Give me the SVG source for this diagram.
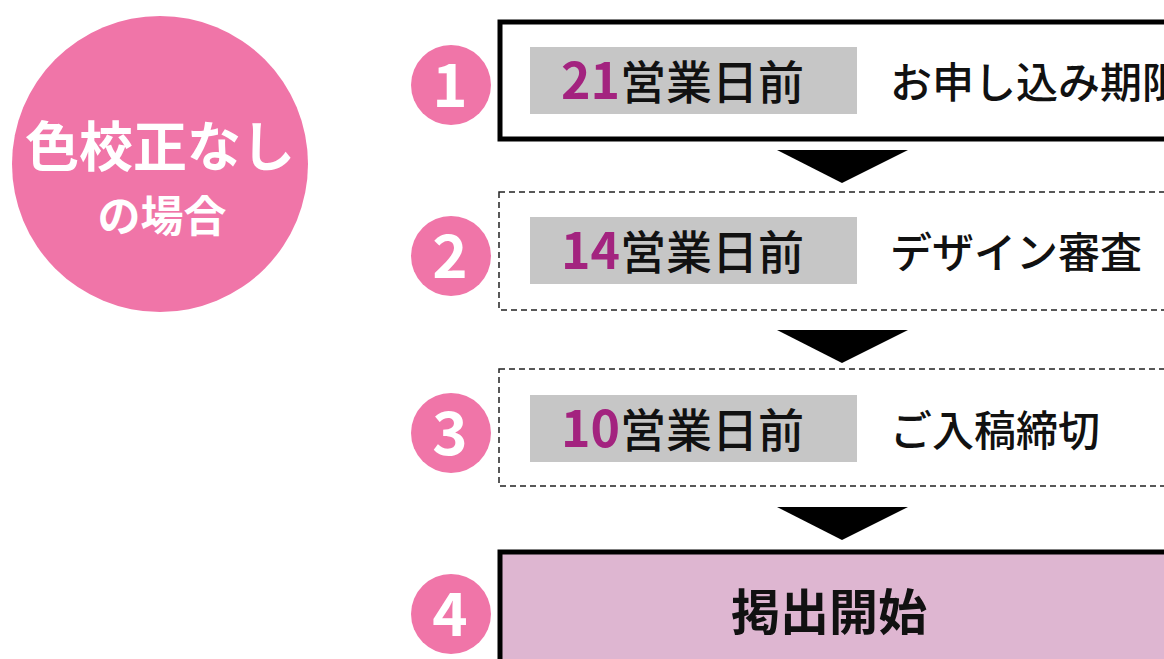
<svg xmlns="http://www.w3.org/2000/svg" width="1164" height="659" viewBox="0 0 1164 659">
<style>
.jp{font-family:"Noto Sans CJK JP","Noto Sans",sans-serif}
.num{font-family:"Noto Sans CJK JP","Noto Sans",sans-serif;font-weight:700;font-size:60px;fill:#fff;text-anchor:middle}
.badge{fill:#F075A8}
.gray{fill:#C6C6C6}
.days{font-family:"Noto Sans CJK JP",sans-serif;font-size:46px;font-weight:500;fill:#111}
.d{fill:#A3237F;font-weight:700;font-size:50px}
.label{font-family:"Noto Sans CJK JP",sans-serif;font-size:42px;font-weight:500;fill:#111}
.solid{fill:#fff;stroke:#000;stroke-width:5}
.dash{fill:#fff;stroke:#222;stroke-width:1.5;stroke-dasharray:6 4}
.arrow{fill:#000}
</style>
<rect width="1164" height="659" fill="#fff"/>
<g id="title">
<circle cx="160" cy="164" r="148" class="badge"/>
<text x="160" y="167" class="jp" font-size="54" font-weight="700" fill="#fff" text-anchor="middle">色校正なし</text>
<text x="162" y="232" class="jp" font-size="43" font-weight="700" fill="#fff" text-anchor="middle">の場合</text>
</g>
<g id="connectors">
<polygon class="arrow" points="777,150 908,150 842,183"/>
<polygon class="arrow" points="777,330 908,330 842,363"/>
<polygon class="arrow" points="777,507 908,507 842,540"/>
</g>
<g id="step1">
<rect class="solid" x="500" y="22" width="720" height="117"/>
<circle class="badge" cx="451" cy="85" r="40"/>
<text class="num" x="450" y="107">1</text>
<rect class="gray" x="530" y="47" width="327" height="67"/>
<text class="days" x="561" y="99"><tspan class="d">21</tspan>営業日前</text>
<text class="label" x="890" y="98">お申し込み期限</text>
</g>
<g id="step2">
<rect class="dash" x="499" y="192" width="720" height="118"/>
<circle class="badge" cx="451" cy="256" r="40"/>
<text class="num" x="450" y="278">2</text>
<rect class="gray" x="530" y="217" width="327" height="67"/>
<text class="days" x="561" y="269"><tspan class="d">14</tspan>営業日前</text>
<text class="label" x="890" y="268">デザイン審査</text>
</g>
<g id="step3">
<rect class="dash" x="499" y="369" width="720" height="117"/>
<circle class="badge" cx="451" cy="433" r="40"/>
<text class="num" x="450" y="455">3</text>
<rect class="gray" x="530" y="395" width="327" height="67"/>
<text class="days" x="561" y="447"><tspan class="d">10</tspan>営業日前</text>
<text class="label" x="890" y="446">ご入稿締切</text>
</g>
<g id="step4">
<rect x="500" y="552" width="720" height="200" fill="#DEB6D1" stroke="#000" stroke-width="5"/>
<circle class="badge" cx="451" cy="614" r="40"/>
<text class="num" x="450" y="636">4</text>
<text class="jp" x="829" y="630" font-size="49" font-weight="700" fill="#111" text-anchor="middle">掲出開始</text>
</g>
</svg>
